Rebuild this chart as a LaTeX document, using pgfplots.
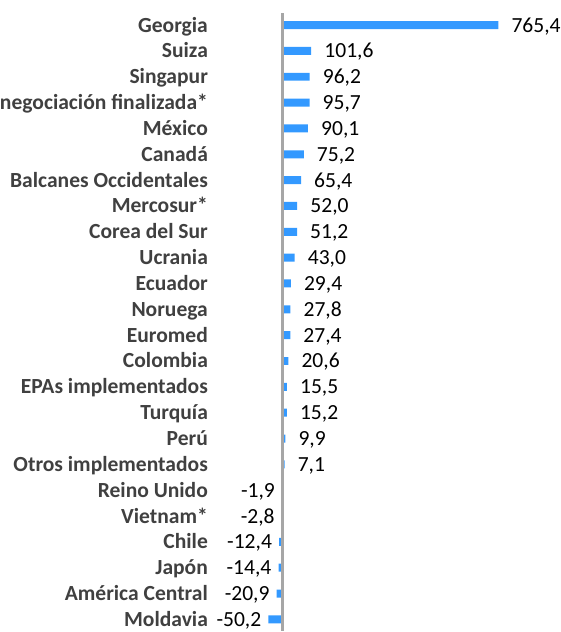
\documentclass[border=0pt]{standalone}
\usepackage{fontspec}
\setmainfont{Carlito}
\usepackage{pgfplots}
\usepackage{pgfplotstable}
\pgfplotsset{compat=1.18}
\definecolor{barblue}{RGB}{51,153,255}
\definecolor{labgray}{RGB}{64,64,64}
\definecolor{axgray}{RGB}{166,166,166}

\pgfplotstableread{
y x lab
0 765.4 765,4
1 101.6 101,6
2 96.2 96,2
3 95.7 95,7
4 90.1 90,1
5 75.2 75,2
6 65.4 65,4
7 52.0 52,0
8 51.2 51,2
9 43.0 43,0
10 29.4 29,4
11 27.8 27,8
12 27.4 27,4
13 20.6 20,6
14 15.5 15,5
15 15.2 15,2
16 9.9 9,9
17 7.1 7,1
}\postable

\pgfplotstableread{
y x lab
18 -1.9 -1,9
19 -2.8 -2,8
20 -12.4 -12,4
21 -14.4 -14,4
22 -20.9 -20,9
23 -50.2 -50,2
}\negtable

\newcommand{\chartfont}{\fontsize{21.6bp}{26bp}\selectfont}

\begin{document}
\begin{tikzpicture}
\begin{axis}[
  scale only axis, width=302bp, height=632bp,
  xmin=-264.3, xmax=804.3, ymin=-0.97, ymax=23.43,
  y dir=reverse,
  axis line style={draw=none},
  xtick=\empty,
  ytick={0,...,23},
  yticklabels={Georgia, Suiza, Singapur, negociación finalizada*, México, Canadá, Balcanes Occidentales, Mercosur*, Corea del Sur, Ucrania, Ecuador, Noruega, Euromed, Colombia, EPAs implementados, Turquía, Perú, Otros implementados, Reino Unido, Vietnam*, Chile, Japón, América Central, Moldavia},
  major tick length=0pt,
  yticklabel style={font=\chartfont\bfseries, text=labgray, inner sep=0pt, text height=14bp, text depth=0pt},
  clip=false,
]
\addplot[xbar, bar width=8bp, bar shift=0pt, draw=none, fill=barblue,
  nodes near coords, point meta=explicit symbolic,
  nodes near coords style={font=\chartfont, anchor=west, inner sep=0pt, xshift=13bp, text height=14bp, text depth=0pt, text=black}]
  table[x=x, y=y, meta=lab] {\postable};
\addplot[xbar, bar width=8bp, bar shift=0pt, draw=none, fill=barblue,
  nodes near coords, point meta=explicit symbolic,
  nodes near coords style={font=\chartfont, anchor=east, inner sep=0pt, xshift=-7bp, text height=14bp, text depth=0pt, text=black}]
  table[x=x, y=y, meta=lab] {\negtable};
\addplot[sharp plot, axgray, line width=3bp, forget plot] coordinates {(0,-0.46) (0,23.43)};
\end{axis}
\end{tikzpicture}
\end{document}
